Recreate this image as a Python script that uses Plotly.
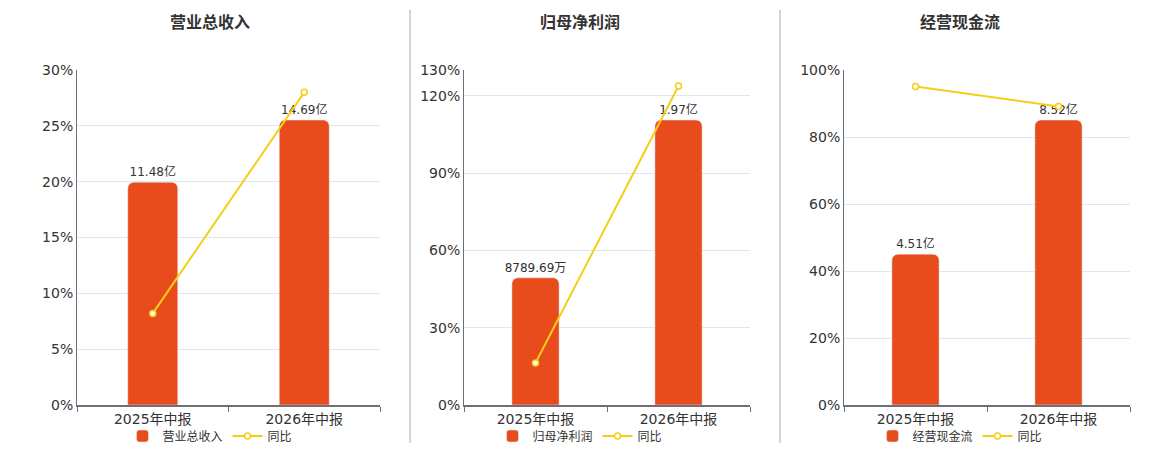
import plotly.graph_objects as go

# 数据
periods = ['2025年中报', '2026年中报']

titles = ['营业总收入', '归母净利润', '经营现金流']

# 柱子数值(亿)
revenue = [11.48, 14.69]
net_profit = [0.878969, 1.97]
cash_flow = [4.51, 8.52]

# 柱子标签
revenue_labels = ['11.48亿', '14.69亿']
net_profit_labels = ['8789.69万', '1.97亿']
cash_flow_labels = ['4.51亿', '8.52亿']

# 同比(%)
revenue_yoy = [8.2, 28.0]
net_profit_yoy = [16.3, 123.8]
cash_flow_yoy = [95.1, 89.1]

# 左轴刻度
revenue_ticks = [0, 5, 10, 15, 20, 25, 30]
net_profit_ticks = [0, 30, 60, 90, 120, 130]
cash_flow_ticks = [0, 20, 40, 60, 80, 100]

BAR_COLOR = '#E84C1C'
LINE_COLOR = '#F5CF16'
FONT = 'Verdana, DejaVu Sans, Noto Sans CJK SC'

# 页面 body 有 8px 边距, 图按窗口减去边距来画
OFF = 8
W, H = 1160 - OFF, 450 - OFF


def px(x):
    return (x - OFF) / W


def py(y):
    return 1 - (y - OFF) / H


panels = [
    (titles[0], revenue, revenue_labels, revenue_yoy, revenue_ticks, (77, 380), 210),
    (titles[1], net_profit, net_profit_labels, net_profit_yoy, net_profit_ticks, (464, 750), 580),
    (titles[2], cash_flow, cash_flow_labels, cash_flow_yoy, cash_flow_ticks, (844, 1130), 960),
]

fig = go.Figure()
layout = {}
annotations = []

for i, (title, bars, labels, yoy, ticks, (x0, x1), cx) in enumerate(panels):
    n = i + 1
    xa = 'x' if n == 1 else f'x{n}'
    ya_bar = f'y{2 * n - 1}' if n > 1 else 'y'
    ya_pct = f'y{2 * n}'
    leg = 'legend' if n == 1 else f'legend{n}'

    fig.add_trace(go.Bar(
        x=periods, y=bars, name=title, xaxis=xa, yaxis=ya_bar,
        marker=dict(color=BAR_COLOR, cornerradius=6),
        width=0.33, text=labels, textposition='outside', cliponaxis=False,
        constraintext='none',
        textfont=dict(size=12, color='#333333', family=FONT),
        legend=leg, hoverinfo='skip'))
    fig.add_trace(go.Scatter(
        x=periods, y=yoy, name='同比', xaxis=xa, yaxis=ya_pct, mode='lines+markers',
        line=dict(color=LINE_COLOR, width=2),
        marker=dict(symbol='circle', size=6, color='white',
                    line=dict(color=LINE_COLOR, width=1.5)),
        cliponaxis=False, legend=leg, hoverinfo='skip'))

    xkey = 'xaxis' if n == 1 else f'xaxis{n}'
    ybar_key = 'yaxis' if n == 1 else f'yaxis{2 * n - 1}'
    ypct_key = f'yaxis{2 * n}'

    layout[xkey] = dict(
        domain=[px(x0), px(x1)], anchor=ya_bar, type='category', tickson='boundaries',
        ticks='outside', ticklen=5, tickcolor='#6E7079',
        showline=True, linecolor='#6E7079', linewidth=1.5,
        showgrid=False, tickfont=dict(size=14, color='#333333', family=FONT))
    layout[ybar_key] = dict(
        domain=[py(405), py(70)], anchor=xa, range=[0, max(bars) * 335 / 285],
        visible=False, showgrid=False)
    layout[ypct_key] = dict(
        overlaying=ya_bar, anchor=xa, side='left', range=[0, ticks[-1]],
        tickvals=ticks, ticktext=[f'{t}%' for t in ticks],
        showline=True, linecolor='#6E7079', linewidth=1,
        showgrid=True, gridcolor='#E0E6F1', zeroline=False,
        tickfont=dict(size=14, color='#333333', family=FONT))
    layout[leg] = dict(
        orientation='h', x=px(cx), xanchor='center', y=py(436), yanchor='middle',
        font=dict(size=12, color='#333333', family=FONT),
        itemwidth=30, bgcolor='rgba(0,0,0,0)')

    annotations.append(dict(
        text=f'<b>{title}</b>', x=px(cx), y=py(22), xref='paper', yref='paper',
        xanchor='center', yanchor='middle', showarrow=False,
        font=dict(size=16, color='#333333', family=FONT)))

shapes = [
    dict(type='line', xref='paper', yref='paper', x0=px(410), x1=px(410),
         y0=py(10), y1=py(443), line=dict(color='#AAAAAA', width=1)),
    dict(type='line', xref='paper', yref='paper', x0=px(780), x1=px(780),
         y0=py(10), y1=py(443), line=dict(color='#AAAAAA', width=1)),
]

fig.update_layout(
    width=W, height=H, margin=dict(l=0, r=0, t=0, b=0, autoexpand=False),
    paper_bgcolor='white', plot_bgcolor='white',
    annotations=annotations, shapes=shapes, **layout)

fig.write_html('out.html')
